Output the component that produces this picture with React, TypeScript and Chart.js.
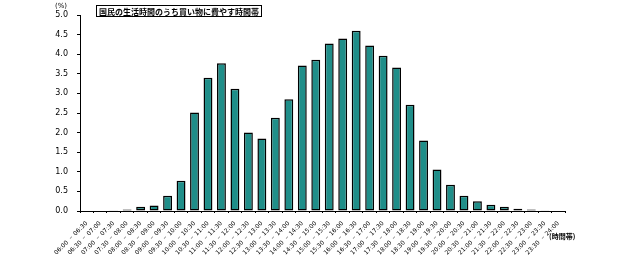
import React, { useEffect, useRef } from "react";
import { Chart, registerables } from "chart.js";

Chart.register(...registerables);

const categories = [
  "06:00 － 06:30", "06:30 － 07:00", "07:00 － 07:30", "07:30 － 08:00",
  "08:00 － 08:30", "08:30 － 09:00", "09:00 － 09:30", "09:30 － 10:00",
  "10:00 － 10:30", "10:30 － 11:00", "11:00 － 11:30", "11:30 － 12:00",
  "12:00 － 12:30", "12:30 － 13:00", "13:00 － 13:30", "13:30 － 14:00",
  "14:00 － 14:30", "14:30 － 15:00", "15:00 － 15:30", "15:30 － 16:00",
  "16:00 － 16:30", "16:30 － 17:00", "17:00 － 17:30", "17:30 － 18:00",
  "18:00 － 18:30", "18:30 － 19:00", "19:00 － 19:30", "19:30 － 20:00",
  "20:00 － 20:30", "20:30 － 21:00", "21:00 － 21:30", "21:30 － 22:00",
  "22:00 － 22:30", "22:30 － 23:00", "23:00 － 23:30", "23:30 － 24:00",
];

const shares = [
  0.0, 0.01, 0.02, 0.04, 0.11, 0.14, 0.39, 0.77,
  2.51, 3.4, 3.77, 3.12, 2.0, 1.85, 2.38, 2.85,
  3.71, 3.86, 4.27, 4.4, 4.6, 4.22, 3.96, 3.66,
  2.71, 1.8, 1.06, 0.67, 0.39, 0.25, 0.16, 0.11,
  0.06, 0.04, 0.02, 0.0,
];

const yMin = 0;
const yMax = 5;
const yStep = 0.5;

const chartTitle = "国民の生活時間のうち買い物に費やす時間帯";
const yUnit = "(%)";
const xUnit = "(時間帯)";

const overlayPlugin = {
  id: "overlayText",
  afterDraw(chart: any) {
    const ctx = chart.ctx as CanvasRenderingContext2D;
    ctx.save();
    // title box
    ctx.font = "bold 8px 'Noto Sans CJK JP'";
    const tw = ctx.measureText(chartTitle).width;
    const bx = 96, by = 5, bh = 11;
    const bw = tw + 5;
    ctx.fillStyle = "#ffffff";
    ctx.fillRect(bx, by, bw, bh);
    ctx.strokeStyle = "#000000";
    ctx.lineWidth = 1;
    ctx.strokeRect(bx + 0.5, by + 0.5, bw, bh);
    ctx.fillStyle = "#000000";
    ctx.textBaseline = "middle";
    ctx.textAlign = "left";
    ctx.fillText(chartTitle, bx + 3, by + bh / 2 + 1);
    // y unit
    ctx.font = "7px 'DejaVu Sans'";
    ctx.textAlign = "center";
    ctx.fillText(yUnit, 61, 6);
    // x unit
    ctx.font = "bold 7px 'Noto Sans CJK JP'";
    ctx.textAlign = "left";
    ctx.fillText(xUnit, 549, 236);
    ctx.restore();
  },
};

export default function App() {
  const ref = useRef<HTMLCanvasElement | null>(null);

  useEffect(() => {
    if (!ref.current) return;
    const chart = new Chart(ref.current, {
      type: "bar",
      data: {
        labels: categories,
        datasets: [
          {
            data: shares,
            backgroundColor: "#1f8e89",
            borderColor: "#000000",
            borderWidth: 1.5,
            borderSkipped: false,
            barPercentage: 0.66,
            categoryPercentage: 1,
          },
        ],
      },
      options: {
        animation: false,
        responsive: true,
        maintainAspectRatio: false,
        layout: { padding: { top: 15, right: 68, bottom: 0, left: 0 } },
        plugins: {
          legend: { display: false },
          tooltip: { enabled: false },
          title: { display: false },
        },
        scales: {
          x: {
            afterFit(scale: any) {
              scale.height = 47;
            },
            grid: {
              display: true,
              drawOnChartArea: false,
              offset: true,
              tickLength: 2,
              color: "#000000",
            },
            border: { display: true, color: "#000000", width: 1 },
            ticks: {
              autoSkip: false,
              minRotation: 45,
              maxRotation: 45,
              padding: 7,
              color: "#000000",
              font: { family: "'DejaVu Sans'", size: 6 },
            },
          },
          y: {
            min: yMin,
            max: yMax,
            afterFit(scale: any) {
              scale.width = 80;
            },
            grid: {
              display: true,
              drawOnChartArea: false,
              tickLength: 3,
              color: "#000000",
            },
            border: { display: true, color: "#000000", width: 1 },
            ticks: {
              stepSize: yStep,
              padding: 9,
              color: "#000000",
              font: { family: "'DejaVu Sans'", size: 8 },
              callback: (v: any) => Number(v).toFixed(1),
            },
          },
        },
      },
      plugins: [overlayPlugin],
    });
    return () => chart.destroy();
  }, []);

  return (
    <div style={{ position: "absolute", left: 0, top: 0, width: 633, height: 258, background: "#fff" }}>
      <canvas ref={ref} />
    </div>
  );
}
